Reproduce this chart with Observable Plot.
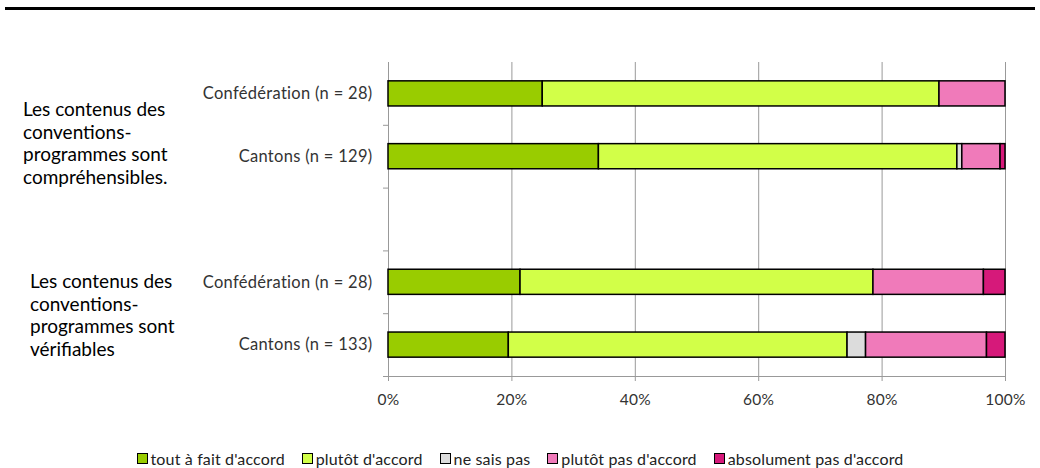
<!DOCTYPE html>
<html>
<head>
<meta charset="utf-8">
<script src="https://cdn.jsdelivr.net/npm/d3@7"></script>
<script src="https://cdn.jsdelivr.net/npm/@observablehq/plot@0.6"></script>
<style>
  body { margin: 0; background: #fff; font-family: Lato, "Open Sans", sans-serif; }
  #wrap { position: relative; width: 1040px; height: 468px; overflow: hidden; }
  #topline { position: absolute; left: 5px; top: 7px; width: 1030px; height: 2.5px; background: #000; }
  .group { position: absolute; font-size: 19px; line-height: 22.7px; color: #000; }
  #legend { position: absolute; top: 449px; left: 0; width: 1040px; display: flex; justify-content: center; gap: 17px; font-size: 16px; color: #222; letter-spacing: 0.15px; }
  #legend span.item { display: flex; align-items: center; }
  #legend span.sw { display: inline-block; width: 9px; height: 9px; border: 1.5px solid #000; margin-right: 3px; }
  #chart { position: absolute; left: 0; top: 0; }
  #chart text { letter-spacing: 0.3px; }
</style>
</head>
<body>
<div id="wrap">
  <div id="topline"></div>
  <div id="chart"></div>
  <div class="group" style="left:23px; top:98px;">Les contenus des<br>conventions-<br>programmes sont<br>compréhensibles.</div>
  <div class="group" style="left:30px; top:270px;">Les contenus des<br>conventions-<br>programmes sont<br>vérifiables</div>
  <div id="legend"></div>
</div>
<script>
// Rows (top to bottom); empty string = spacer row
const rows = ["Confédération (n = 28)", "Cantons (n = 129)", "", "Confédération (n = 28)", "Cantons (n = 133)"];
const categories = ["tout à fait d'accord", "plutôt d'accord", "ne sais pas", "plutôt pas d'accord", "absolument pas d'accord"];
const colors = ["#99CC00", "#D2FF48", "#DCDCDC", "#F07ABA", "#D6197A"];
// Percentages per row
const toutAFait     = [25.0, 34.1, 0, 21.4, 19.5];
const plutotAccord  = [64.3, 58.1, 0, 57.2, 54.9];
const neSaisPas     = [0.0,  0.8,  0, 0.0,  3.0];
const plutotPas     = [10.7, 6.2,  0, 17.9, 19.6];
const absolumentPas = [0.0,  0.8,  0, 3.5,  3.0];
const xTicks = [0, 20, 40, 60, 80, 100];

const series = [toutAFait, plutotAccord, neSaisPas, plutotPas, absolumentPas];
const segments = [];
rows.forEach((r, i) => {
  if (!r) return;
  let acc = 0;
  series.forEach((s, k) => {
    const v = s[i];
    if (v > 0) {
      segments.push({row: i, cat: categories[k], x1: acc, x2: acc + v});
      acc += v;
    }
  });
});
const labels = rows.map((r, i) => ({row: i, label: r})).filter(d => d.label);

const chart = Plot.plot({
  width: 1040,
  height: 430,
  marginTop: 62,
  marginBottom: 54,
  marginLeft: 388,
  marginRight: 35,
  style: {fontFamily: "Lato, 'Open Sans', sans-serif", background: "transparent"},
  x: {domain: [0, 100]},
  y: {domain: [5, 0]},
  color: {domain: categories, range: colors},
  marks: [
    Plot.gridX([20, 40, 60, 80, 100], {stroke: "#999", strokeOpacity: 1, strokeWidth: 1}),
    Plot.ruleX([0], {stroke: "#999", strokeWidth: 1}),
    Plot.ruleY([5], {stroke: "#999", strokeWidth: 1}),
    Plot.axisX({ticks: xTicks, tickFormat: d => d + "%", tickSize: 5, stroke: "#999", fill: "#333", fontSize: 15.5, tickPadding: 12, label: null}),
    Plot.axisY({ticks: [1, 2, 3, 4, 5], tickSize: 5, tickFormat: () => "", stroke: "#999", label: null}),
    Plot.rectX(segments, {x1: "x1", x2: "x2", y1: d => d.row + 0.3, y2: d => d.row + 0.7, fill: "cat", stroke: "#000", strokeWidth: 1.5}),
    Plot.text(labels, {x: 0, y: d => d.row + 0.5, text: "label", textAnchor: "end", dx: -16, fontSize: 16.5, fill: "#333"})
  ]
});
document.getElementById("chart").appendChild(chart);

const legend = document.getElementById("legend");
categories.forEach((c, k) => {
  const item = document.createElement("span");
  item.className = "item";
  const sw = document.createElement("span");
  sw.className = "sw";
  sw.style.background = colors[k];
  item.appendChild(sw);
  item.appendChild(document.createTextNode(c));
  legend.appendChild(item);
});
</script>
</body>
</html>
